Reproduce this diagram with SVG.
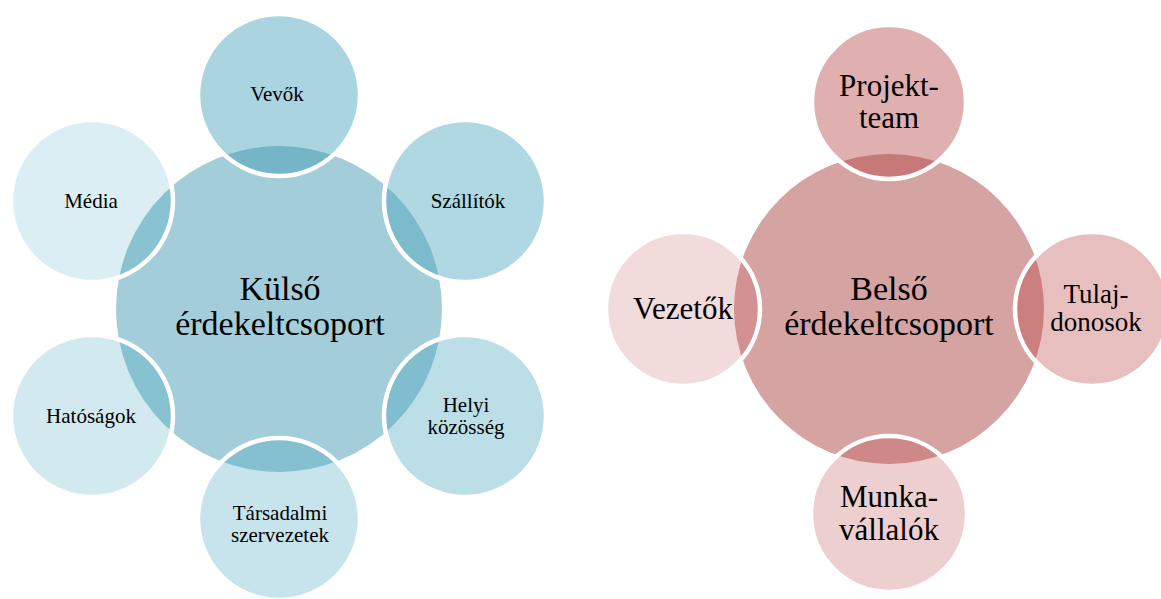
<svg xmlns="http://www.w3.org/2000/svg" width="1161" height="599" viewBox="0 0 1161 599" font-family="Liberation Serif">
<style>
text{fill:#000;text-anchor:middle}
.s{font-size:21px}
.b{font-size:34px}
.r{font-size:31px}
.t{font-size:27px}
.ring{fill:none;stroke:#fff;stroke-width:4.5}
</style>
<defs>
<clipPath id="clipL"><circle cx="279" cy="309" r="163"/></clipPath>
<clipPath id="clipR"><circle cx="889" cy="309" r="155"/></clipPath>
</defs>
<rect width="1161" height="599" fill="#fff"/>
<g id="connectors"/>
<g id="kulso">
<circle cx="279" cy="309" r="163" fill="#a3cdd9"/>
<text class="b" x="280" y="300" font-family="Liberation Serif">Külső</text>
<text class="b" x="280" y="335" font-family="Liberation Serif">érdekeltcsoport</text>
</g>
<g id="vevok">
<circle cx="279" cy="95" r="81" fill="#aad4e0"/>
<circle cx="279" cy="95" r="81" fill="#75b5c8" clip-path="url(#clipL)"/>
<circle cx="279" cy="95" r="81" class="ring"/>
<text class="s" x="277" y="101" font-family="Liberation Serif">Vevők</text>
</g>
<g id="szallitok">
<circle cx="465" cy="201" r="81" fill="#b0d8e3"/>
<circle cx="465" cy="201" r="81" fill="#7cbbcc" clip-path="url(#clipL)"/>
<circle cx="465" cy="201" r="81" class="ring"/>
<text class="s" x="468" y="208" font-family="Liberation Serif">Szállítók</text>
</g>
<g id="helyi">
<circle cx="465" cy="416" r="81" fill="#bbdee7"/>
<circle cx="465" cy="416" r="81" fill="#80bdce" clip-path="url(#clipL)"/>
<circle cx="465" cy="416" r="81" class="ring"/>
<text class="s" x="466" y="412" font-family="Liberation Serif">Helyi</text>
<text class="s" x="466" y="434" font-family="Liberation Serif">közösség</text>
</g>
<g id="tarsadalmi">
<circle cx="279" cy="519" r="81" fill="#c7e4ec"/>
<circle cx="279" cy="519" r="81" fill="#85c0d0" clip-path="url(#clipL)"/>
<circle cx="279" cy="519" r="81" class="ring"/>
<text class="s" x="280" y="520" font-family="Liberation Serif">Társadalmi</text>
<text class="s" x="280" y="542" font-family="Liberation Serif">szervezetek</text>
</g>
<g id="hatosagok">
<circle cx="92" cy="416" r="81" fill="#d2e9f0"/>
<circle cx="92" cy="416" r="81" fill="#87c2d1" clip-path="url(#clipL)"/>
<circle cx="92" cy="416" r="81" class="ring"/>
<text class="s" x="91" y="423" font-family="Liberation Serif">Hatóságok</text>
</g>
<g id="media">
<circle cx="92" cy="201" r="81" fill="#dbeef4"/>
<circle cx="92" cy="201" r="81" fill="#89c3d2" clip-path="url(#clipL)"/>
<circle cx="92" cy="201" r="81" class="ring"/>
<text class="s" x="91" y="208" font-family="Liberation Serif">Média</text>
</g>
<g id="belso">
<circle cx="889" cy="309" r="155" fill="#d6a3a3"/>
<text class="b" x="889" y="300" font-family="Liberation Serif">Belső</text>
<text class="b" x="889" y="335" font-family="Liberation Serif">érdekeltcsoport</text>
</g>
<g id="projekt">
<circle cx="889" cy="102" r="77" fill="#e0b0b0"/>
<circle cx="889" cy="102" r="77" fill="#c77979" clip-path="url(#clipR)"/>
<circle cx="889" cy="102" r="77" class="ring"/>
<text class="r" x="889" y="96" font-family="Liberation Serif">Projekt-</text>
<text class="r" x="889" y="128" font-family="Liberation Serif">team</text>
</g>
<g id="tulaj">
<circle cx="1092" cy="309" r="77" fill="#e8bfbf"/>
<circle cx="1092" cy="309" r="77" fill="#cc7f7f" clip-path="url(#clipR)"/>
<circle cx="1092" cy="309" r="77" class="ring"/>
<text class="t" x="1096" y="303" font-family="Liberation Serif">Tulaj-</text>
<text class="t" x="1096" y="331" font-family="Liberation Serif">donosok</text>
</g>
<g id="munka">
<circle cx="889" cy="514" r="78" fill="#edcfcf"/>
<circle cx="889" cy="514" r="78" fill="#cf8888" clip-path="url(#clipR)"/>
<circle cx="889" cy="514" r="78" class="ring"/>
<text class="r" x="889" y="507" font-family="Liberation Serif">Munka-</text>
<text class="r" x="889" y="540" font-family="Liberation Serif">vállalók</text>
</g>
<g id="vezetok">
<circle cx="683" cy="309" r="77" fill="#f1dbdb"/>
<circle cx="683" cy="309" r="77" fill="#d49191" clip-path="url(#clipR)"/>
<circle cx="683" cy="309" r="77" class="ring"/>
<text class="r" x="683" y="319" font-family="Liberation Serif">Vezetők</text>
</g>
</svg>
